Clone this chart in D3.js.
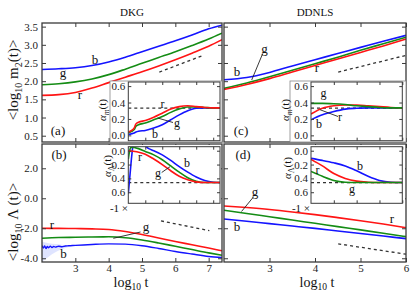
<!DOCTYPE html>
<html><head><meta charset="utf-8">
<script src="https://cdn.jsdelivr.net/npm/d3@7"></script>
<style>
body{margin:0;background:#fff;}
svg text{font-family:"Liberation Serif","Times New Roman",serif;}
</style></head><body>
<svg id="c" width="415" height="291"></svg>
<script>
// ---------------- data ----------------
const seriesNames = ["b","g","r"];
// (a) DKG <log10 m2>
const tDKG = [2.0,2.5,3.0,3.5,4.0,4.5,5.0,5.5,6.0,6.5,7.0,7.4];
const m2DKG_b = [2.32,2.34,2.37,2.43,2.53,2.66,2.81,2.96,3.11,3.27,3.44,3.54];
const m2DKG_g = [1.90,1.93,1.98,2.06,2.18,2.33,2.49,2.65,2.81,2.98,3.16,3.32];
const m2DKG_r = [1.61,1.63,1.69,1.81,1.96,2.11,2.26,2.42,2.59,2.77,2.96,3.14];
// (c) DDNLS <log10 m2>
const tDDN = [2.0,2.5,3.0,3.5,4.0,4.5,5.0,5.5,6.0];
const m2DDN_b = [2.04,2.10,2.24,2.42,2.59,2.76,2.93,3.10,3.26];
const m2DDN_g = [1.80,1.95,2.12,2.30,2.48,2.66,2.85,3.03,3.21];
const m2DDN_r = [1.77,1.91,2.07,2.25,2.43,2.61,2.79,2.97,3.16];
// (b) DKG <log10 Lambda>
const LDKG_r = [-2.00,-2.01,-2.02,-2.04,-2.08,-2.22,-2.42,-2.65,-2.88,-3.10,-3.32,-3.50];
const LDKG_g = [-2.67,-2.62,-2.60,-2.58,-2.57,-2.63,-2.78,-2.98,-3.20,-3.42,-3.64,-3.80];
const tLDKG_b = [2.0,2.04,2.08,2.12,2.16,2.2,2.25,2.3,2.35,2.4,2.5,2.6,2.7,2.8,3.0,3.5,4.0,4.5,5.0,5.5,6.0,6.5,7.0,7.4];
const LDKG_b = [-3.15,-3.32,-3.18,-3.36,-3.22,-3.30,-3.19,-3.29,-3.21,-3.26,-3.20,-3.23,-3.18,-3.17,-3.14,-3.08,-3.04,-3.06,-3.17,-3.35,-3.55,-3.72,-3.88,-3.95];
const tBand = [2.0,2.2,2.4,2.6,2.8];
const bandHi = [-2.90,-3.00,-3.05,-3.10,-3.15];
const bandLo = [-4.25,-3.90,-3.60,-3.40,-3.25];
// (d) DDNLS <log10 Lambda>
const LDDN_r = [-0.51,-0.62,-0.75,-0.91,-1.09,-1.29,-1.50,-1.72,-1.96];
const LDDN_g = [-0.80,-1.01,-1.23,-1.45,-1.67,-1.89,-2.11,-2.33,-2.56];
const LDDN_b = [-1.38,-1.53,-1.69,-1.85,-2.01,-2.18,-2.35,-2.52,-2.69];
// inset (a) alpha_m DKG
const tAm = [2.0,2.2,2.35,2.45,2.6,3.0,3.5,4.0,4.5,5.0,5.5,6.0,6.5,7.0,7.4];
const amDKG_r = [0.04,0.06,0.09,0.14,0.16,0.18,0.22,0.27,0.32,0.35,0.36,0.35,0.34,0.335,0.335];
const amDKG_g = [0.03,0.05,0.07,0.11,0.13,0.15,0.19,0.23,0.28,0.32,0.345,0.345,0.34,0.335,0.335];
const amDKG_b = [0.01,0.02,0.03,0.04,0.05,0.06,0.09,0.13,0.19,0.25,0.30,0.33,0.335,0.335,0.335];
// inset (b) alpha_Lambda DKG (plotted as -1 x)
const tAl_r = [2.0,2.5,3.0,3.5,4.0,4.5,5.0,5.5,6.0,6.5,7.0,7.4];
const alDKG_r = [0.0,0.015,0.05,0.12,0.20,0.29,0.37,0.42,0.45,0.46,0.46,0.46];
const tAl_g = [2.0,2.08,2.15,2.6,3.0,3.5,4.0,4.5,5.0,5.5,6.0,6.5,7.0,7.4];
const alDKG_g = [0.12,0.0,-0.05,-0.03,0.01,0.06,0.13,0.22,0.31,0.39,0.44,0.46,0.46,0.46];
const tAl_b = [2.0,2.1,2.2,2.3,2.8,3.2,3.5,4.0,4.5,5.0,5.5,6.0,6.5,7.0,7.4];
const alDKG_b = [0.62,0.35,0.08,-0.10,-0.10,-0.03,0.0,0.06,0.14,0.23,0.31,0.38,0.43,0.455,0.46];
// inset (c) alpha_m DDNLS
const amDDN_r = [0.26,0.33,0.36,0.37,0.37,0.36,0.35,0.34,0.335];
const amDDN_g = [0.39,0.39,0.385,0.375,0.36,0.35,0.34,0.335,0.335];
const amDDN_b = [0.19,0.25,0.29,0.32,0.33,0.335,0.335,0.335,0.335];
// inset (d) alpha_Lambda DDNLS
const alDDN_b = [0.11,0.14,0.175,0.22,0.29,0.37,0.43,0.455,0.46];
const alDDN_r = [0.125,0.22,0.33,0.40,0.44,0.455,0.46,0.46,0.46];
const alDDN_g = [0.30,0.37,0.43,0.455,0.46,0.46,0.46,0.46,0.46];
// reference dashed lines
const refA = {t:[5.52,6.81], v:[2.25,2.70]};
const refB = {t:[5.57,7.02], v:[-1.51,-2.16]};
const refC = {t:[4.51,6.0], v:[2.25,2.71]};
const refD = {t:[4.51,6.0], v:[-3.04,-3.73]};
const amLevel = 0.333, alLevel = 0.46;
// ticks
const xTicksDKG = [3,4,5,6,7], xTicksDDN = [3,4,5,6];
const yTicksM2 = [0.5,1.0,1.5,2.0,2.5,3.0,3.5];
const yTicksL = [-4,-2,0,2];
const yTicksAlpha = [0.0,0.2,0.4,0.6];

// ---------------- drawing ----------------
const svg = d3.select("#c");
const FONT = '"Liberation Serif","Times New Roman",serif';
const COL = {b:"#1414ff", g:"#148c14", r:"#ff1414"};
const AX = "#3a3a3a";
let clipN = 0;

function axes(g, xs, ys, xt, yt, o){
  const [x0,x1]=xs.range(); const yr=ys.range(); const y0=Math.min(...yr), y1=Math.max(...yr);
  const tl=o.tl||4;
  const L=g.append("g").attr("transform",`translate(${x0},0)`).call(d3.axisLeft(ys).tickValues(yt).tickSize(-tl).tickPadding(o.ypad||4).tickFormat(o.ylab?(d=>d.toFixed(1)):""));
  const R=g.append("g").attr("transform",`translate(${x1},0)`).call(d3.axisRight(ys).tickValues(yt).tickSize(-tl).tickFormat(""));
  const B=g.append("g").attr("transform",`translate(0,${y1})`).call(d3.axisBottom(xs).tickValues(xt).tickSize(-tl).tickPadding(o.xpad||4).tickFormat(o.xlab?d3.format("d"):""));
  const T=g.append("g").attr("transform",`translate(0,${y0})`).call(d3.axisTop(xs).tickValues(xt).tickSize(-tl).tickFormat(""));
  [L,R,B,T].forEach(a=>{a.select(".domain").remove();a.selectAll("line").attr("stroke",AX).attr("stroke-width",o.sw||1);
    a.selectAll("text").attr("font-family",FONT).attr("font-size",o.fs||11).attr("fill","#222");});
  g.append("rect").attr("x",x0).attr("y",y0).attr("width",x1-x0).attr("height",y1-y0)
    .attr("fill","none").attr("stroke",AX).attr("stroke-width",o.fw||1.3);
}
function clip(xs, ys){
  const [x0,x1]=xs.range(); const yr=ys.range(); const y0=Math.min(...yr), y1=Math.max(...yr);
  const id="cl"+(clipN++);
  svg.append("clipPath").attr("id",id).append("rect").attr("x",x0).attr("y",y0).attr("width",x1-x0).attr("height",y1-y0);
  return "url(#"+id+")";
}
function curve(g, xs, ys, t, v, color, w){
  const ln=d3.line().x(d=>xs(d[0])).y(d=>ys(d[1])).curve(d3.curveMonotoneX);
  g.append("path").attr("d",ln(d3.zip(t,v))).attr("fill","none").attr("stroke",color).attr("stroke-width",w||1.6);
}
function dashed(g, xs, ys, t, v, w){
  const ln=d3.line().x(d=>xs(d[0])).y(d=>ys(d[1]));
  g.append("path").attr("d",ln(d3.zip(t,v))).attr("fill","none").attr("stroke","#333").attr("stroke-width",w||1.3).attr("stroke-dasharray","3,3");
}
function label(x,y,s,fs,anchor){
  return svg.append("text").attr("x",x).attr("y",y).attr("font-family",FONT).attr("font-size",fs||13)
    .attr("text-anchor",anchor||"middle").attr("fill","#111").text(s);
}
function leader(x1,y1,x2,y2){
  svg.append("line").attr("x1",x1).attr("y1",y1).attr("x2",x2).attr("y2",y2).attr("stroke","#222").attr("stroke-width",0.9);
}

// scales for main panels
const xL = d3.scaleLinear().domain([2,7.4]).range([42,222]);
const xR = d3.scaleLinear().domain([2,6]).range([224,406]);
const yTop = d3.scaleLinear().domain([0.327,3.60]).range([142,23]);
const yBot = d3.scaleLinear().domain([-4.25,3.62]).range([262,144]);

// panel (a)
{
  const g=svg.append("g"); const c=g.append("g").attr("clip-path",clip(xL,yTop));
  curve(c,xL,yTop,tDKG,m2DKG_b,COL.b); curve(c,xL,yTop,tDKG,m2DKG_g,COL.g); curve(c,xL,yTop,tDKG,m2DKG_r,COL.r);
  dashed(c,xL,yTop,refA.t,refA.v);
  axes(g,xL,yTop,xTicksDKG,yTicksM2,{ylab:true});
}
// panel (b)
{
  const g=svg.append("g"); const c=g.append("g").attr("clip-path",clip(xL,yBot));
  const area=d3.area().x(d=>xL(d[0])).y0(d=>yBot(d[1])).y1(d=>yBot(d[2])).curve(d3.curveMonotoneX);
  c.append("path").attr("d",area(d3.zip(tBand,bandLo,bandHi))).attr("fill","#c9d2ff").attr("opacity",0.6);
  curve(c,xL,yBot,tLDKG_b,LDKG_b,COL.b,1.4); curve(c,xL,yBot,tDKG,LDKG_g,COL.g); curve(c,xL,yBot,tDKG,LDKG_r,COL.r);
  dashed(c,xL,yBot,refB.t,refB.v);
  axes(g,xL,yBot,xTicksDKG,yTicksL,{ylab:true,xlab:true,xpad:2});
}
// panel (c)
{
  const g=svg.append("g"); const c=g.append("g").attr("clip-path",clip(xR,yTop));
  curve(c,xR,yTop,tDDN,m2DDN_b,COL.b); curve(c,xR,yTop,tDDN,m2DDN_g,COL.g); curve(c,xR,yTop,tDDN,m2DDN_r,COL.r);
  dashed(c,xR,yTop,refC.t,refC.v);
  axes(g,xR,yTop,xTicksDDN,yTicksM2,{});
}
// panel (d)
{
  const g=svg.append("g"); const c=g.append("g").attr("clip-path",clip(xR,yBot));
  curve(c,xR,yBot,tDDN,LDDN_b,COL.b); curve(c,xR,yBot,tDDN,LDDN_g,COL.g); curve(c,xR,yBot,tDDN,LDDN_r,COL.r);
  dashed(c,xR,yBot,refD.t,refD.v);
  axes(g,xR,yBot,xTicksDDN,yTicksL,{xlab:true,xpad:2});
}

// insets
function inset(box, xs, ys, lvl, lines, lab, sub){
  svg.append("rect").attr("x",box[0]).attr("y",box[1]).attr("width",box[2]-box[0]).attr("height",box[3]-box[1])
    .attr("fill","#fff").attr("stroke",box[4]?"#888":"none").attr("stroke-width",0.8);
  const g=svg.append("g"); const c=g.append("g").attr("clip-path",clip(xs,ys));
  dashed(c,xs,ys,xs.domain(),[lvl,lvl],1.2);
  lines.forEach(l=>curve(c,xs,ys,l[0],l[1],l[2],1.6));
  axes(g,xs,ys,lines.xt,yTicksAlpha,{ylab:true,fs:11,ypad:3,tl:3,fw:1});
  const t=svg.append("text").attr("transform",`translate(${lab[0]},${lab[1]}) rotate(-90)`).attr("text-anchor","middle")
    .attr("font-family",FONT).attr("font-size",11).attr("fill","#111");
  t.append("tspan").attr("font-style","italic").text("α");
  t.append("tspan").attr("font-size",8).attr("dy",3).attr("font-style",sub==="m"?"italic":"normal").text(sub);
  t.append("tspan").attr("dy",-3).text("(t)");
}
const xiL = d3.scaleLinear().domain([2,7.4]).range([128.3,220]);
const xiR = d3.scaleLinear().domain([2,6]).range([311,402.3]);
const yiTop = d3.scaleLinear().domain([-0.065,0.65]).range([140.7,82]);
const yiBot = d3.scaleLinear().domain([-0.058,0.76]).range([146.7,203.3]);

let L1=[[tAm,amDKG_b,COL.b],[tAm,amDKG_g,COL.g],[tAm,amDKG_r,COL.r]]; L1.xt=xTicksDKG;
inset([110,81,222,142,true],xiL,yiTop,amLevel,L1,[106,110],"m");
let L2=[[tAl_b,alDKG_b,COL.b],[tAl_g,alDKG_g,COL.g],[tAl_r,alDKG_r,COL.r]]; L2.xt=xTicksDKG;
inset([108,145,221,205,false],xiL,yiBot,alLevel,L2,[111,166],"Λ");
let L3=[[tDDN,amDDN_b,COL.b],[tDDN,amDDN_r,COL.r],[tDDN,amDDN_g,COL.g]]; L3.xt=xTicksDDN;
inset([290,81,406,142,true],xiR,yiTop,amLevel,L3,[289,110],"m");
let L4=[[tDDN,alDDN_b,COL.b],[tDDN,alDDN_r,COL.r],[tDDN,alDDN_g,COL.g]]; L4.xt=xTicksDDN;
inset([289,145,405,205,false],xiR,yiBot,alLevel,L4,[291,168],"Λ");
label(128,211.5,"-1 ×",11,"end");
label(310,211.5,"-1 ×",11,"end");

// titles
label(132,16,"DKG",11);
label(315,16,"DDNLS",11);
// axis titles
function ytitle(x,y,mid,sub2){
  const t=svg.append("text").attr("transform",`translate(${x},${y}) rotate(-90)`).attr("text-anchor","middle")
    .attr("font-family",FONT).attr("font-size",15).attr("fill","#111");
  t.append("tspan").text("<log");
  t.append("tspan").attr("font-size",10).attr("dy",4).text("10");
  t.append("tspan").attr("dy",-4).text(" "+mid);
  if(sub2){t.append("tspan").attr("font-size",10).attr("dy",4).text(sub2); t.append("tspan").attr("dy",-4).text("(t)>");}
  else t.append("tspan").text(" (t)>");
}
ytitle(18,80,"m","2");
ytitle(18,222,"Λ",null);
function xtitle(x,y){
  const t=svg.append("text").attr("x",x).attr("y",y).attr("text-anchor","middle").attr("font-family",FONT).attr("font-size",14).attr("fill","#111");
  t.append("tspan").text("log"); t.append("tspan").attr("font-size",9.5).attr("dy",3).text("10"); t.append("tspan").attr("dy",-3).text(" t");
}
xtitle(131,287); xtitle(317,287);

// panel letters
label(58,135,"(a)",13); label(59,158.5,"(b)",13); label(241,135,"(c)",13); label(243,158.5,"(d)",13);
// curve labels main
label(95,63.5,"b"); label(63,76.5,"g"); label(80,99,"r");
label(52,228.5,"r"); label(146,230.5,"g"); label(63.5,257.5,"b"); leader(113.3,238.3,140.5,232);
label(237,76,"b"); label(264.5,52.5,"g"); label(317,71.5,"r"); leader(262.5,54,251.7,80);
label(255,196,"g"); label(237,230.5,"b"); label(392,222.5,"r"); leader(253,197.5,241.5,211.5);
// inset labels
label(162.5,108,"r",12); label(177,127,"g",12); label(155,138,"b",12); leader(157.7,118,173,122.5);
label(140,160.5,"r",12); label(158,177,"g",12); label(187,167,"b",12); leader(161.7,172.5,170,166.7);
label(323.5,97,"g",12); label(340,120.5,"r",12); label(319,128,"b",12); leader(320,109.7,338,116.5);
label(360,170,"b",12); label(317.5,173.5,"r",12); label(352,192.5,"g",12);
</script>
</body></html>
